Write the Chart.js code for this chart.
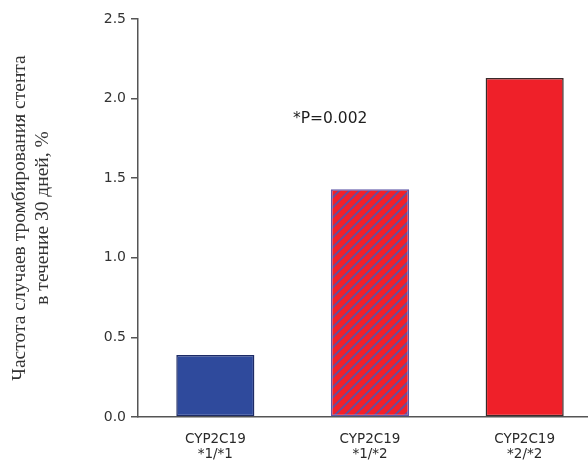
<!DOCTYPE html>
<html>
<head>
<meta charset="utf-8">
<script src="https://cdn.jsdelivr.net/npm/chart.js@4"></script>
<style>
  html, body { margin: 0; padding: 0; background: #fff; overflow: hidden; }
  #wrap { width: 602px; height: 464px; }
</style>
</head>
<body>
<div id="wrap"><canvas id="bar" width="602" height="464"></canvas></div>
<script>
const genotypes = [["CYP2C19", "*1/*1"], ["CYP2C19", "*1/*2"], ["CYP2C19", "*2/*2"]];
const thrombosisRate = [0.39, 1.43, 2.13];
const yTicks = [0, 0.5, 1.0, 1.5, 2.0, 2.5];
const yTitle = ["Частота случаев тромбирования стента", "в течение 30 дней, %"];
const pValueText = "*P=0.002";

// red fill with blue diagonal stripes for the heterozygous bar
function makeHatch() {
  const c = document.createElement("canvas");
  c.width = 10;
  c.height = 10;
  const g = c.getContext("2d");
  g.fillStyle = "#f2202a";
  g.fillRect(0, 0, 10, 10);
  g.strokeStyle = "#6150a0";
  g.lineWidth = 1.9;
  g.beginPath();
  g.moveTo(-2, 12); g.lineTo(12, -2);
  g.moveTo(-2, 2); g.lineTo(2, -2);
  g.moveTo(8, 12); g.lineTo(12, 8);
  g.stroke();
  return g.createPattern(c, "repeat");
}

const ctx = document.getElementById("bar");

const pLabel = {
  id: "pLabel",
  afterDraw(chart) {
    const x = chart.scales.x.getPixelForValue(1) - 77;
    const y = chart.scales.y.getPixelForValue(1.87);
    const c = chart.ctx;
    c.save();
    c.font = "15.5px 'DejaVu Sans'";
    c.fillStyle = "#1e1e1e";
    c.textAlign = "left";
    c.textBaseline = "middle";
    c.fillText(pValueText, x, y);
    c.restore();
  },
};

new Chart(ctx, {
  type: "bar",
  data: {
    labels: genotypes,
    datasets: [
      {
        data: thrombosisRate,
        backgroundColor: ["#2f4a9c", makeHatch(), "#ef2029"],
        borderColor: ["#1d2b66", "#5e58a8", "#3a2a2a"],
        borderWidth: 1.5,
        borderSkipped: false,
        barPercentage: 0.505,
        categoryPercentage: 1,
      },
    ],
  },
  options: {
    responsive: false,
    animation: false,
    layout: { padding: { top: 19, right: 0, left: 0, bottom: 0 } },
    plugins: { legend: { display: false }, tooltip: { enabled: false } },
    scales: {
      x: {
        afterFit: (s) => { s.height = 47; },
        grid: { drawOnChartArea: false, drawTicks: false },
        border: { color: "#555", width: 1.5 },
        ticks: {
          color: "#2a2a2a",
          padding: 15,
          font: { family: "'DejaVu Sans'", size: 13.5, lineHeight: 1.1 },
          maxRotation: 0,
        },
      },
      y: {
        min: 0,
        max: 2.5,
        afterFit: (s) => { s.width = 138; },
        afterBuildTicks: (s) => { s.ticks = yTicks.map((v) => ({ value: v })); },
        grid: { drawOnChartArea: false, drawTicks: true, tickLength: 7, color: "#555", lineWidth: 1.5 },
        border: { color: "#555", width: 1.5 },
        ticks: {
          color: "#333",
          padding: 5,
          font: { family: "'DejaVu Sans'", size: 14 },
          callback: (v) => Number(v).toFixed(1),
        },
        title: {
          display: true,
          text: yTitle,
          color: "#333",
          padding: { top: 9, bottom: 0 },
          font: { family: "'Liberation Serif'", size: 19.5, lineHeight: 1.15 },
        },
      },
    },
  },
  plugins: [pLabel],
});
</script>
</body>
</html>
